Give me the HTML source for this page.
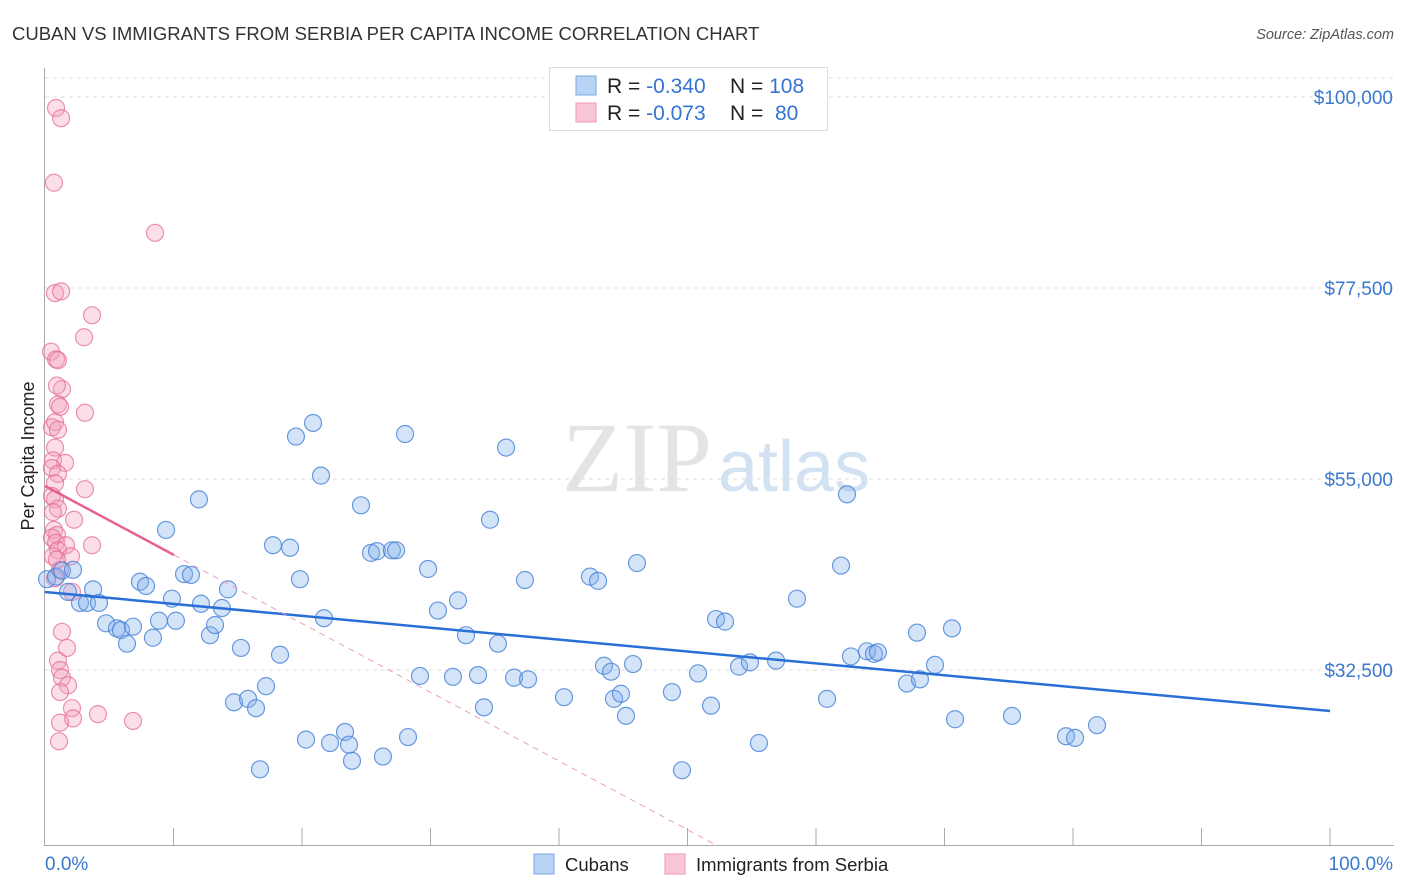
<!DOCTYPE html>
<html><head><meta charset="utf-8">
<style>
body{margin:0;background:#fff;font-family:"Liberation Sans",sans-serif;}
#wrap{position:relative;width:1406px;height:892px;overflow:hidden;}
</style></head>
<body>
<div id="wrap">
<svg id="chart" width="1406" height="892" xmlns="http://www.w3.org/2000/svg">
<text x="12" y="40" font-size="18.5" fill="#333">CUBAN VS IMMIGRANTS FROM SERBIA PER CAPITA INCOME CORRELATION CHART</text>
<text x="1394" y="39" font-size="14.5" fill="#555" font-style="italic" text-anchor="end">Source: ZipAtlas.com</text>
<text x="712" y="491" font-size="100" fill="#e4e4e4" text-anchor="end" font-family="Liberation Serif,serif">ZIP</text>
<text x="718" y="491" font-size="72" fill="#d3e2f2">atlas</text>
<text transform="translate(34,456) rotate(-90)" font-size="18" fill="#222" text-anchor="middle">Per Capita Income</text>
<g id="grid"></g><g id="axes"></g><g id="pts"></g><g id="lines"></g>
<g>
<rect x="549.5" y="67.5" width="278" height="63" fill="#fff" stroke="#ddd"/>
<rect x="576" y="76" width="20" height="19" fill="#b8d3f3" stroke="#7aa9e3"/>
<rect x="576" y="103" width="20" height="19" fill="#f9c6d6" stroke="#ec9ab5"/>
<text x="607" y="93" font-size="21" fill="#222">R = <tspan fill="#3574d4">-0.340</tspan><tspan x="730">N = </tspan><tspan fill="#3574d4">108</tspan></text>
<text x="607" y="120" font-size="21" fill="#222">R = <tspan fill="#3574d4">-0.073</tspan><tspan x="730">N = </tspan><tspan fill="#3574d4" x="775">80</tspan></text>
</g>
<g>
<rect x="534" y="854" width="20" height="20" fill="#b8d3f3" stroke="#7aa9e3"/>
<text x="565" y="871" font-size="18.5" fill="#222">Cubans</text>
<rect x="665" y="854" width="20" height="20" fill="#f9c6d6" stroke="#ec9ab5"/>
<text x="696" y="871" font-size="18.5" fill="#222">Immigrants from Serbia</text>
</g>
</svg>
</div>
<script>
const yTicks=[32500,55000,77500,100000];
const yTickLabels=["$32,500","$55,000","$77,500","$100,000"];
const xTickLabels=["0.0%","100.0%"];
const cubanX=[0.16,0.86,1.32,2.18,1.79,2.72,3.27,3.74,4.20,4.75,5.60,5.91,6.38,6.85,7.39,7.86,8.40,8.87,9.42,9.88,10.19,10.82,11.36,11.98,12.14,12.84,13.23,13.77,14.24,14.71,15.25,15.80,16.42,17.20,16.73,18.29,17.74,19.07,19.53,19.84,20.31,20.86,21.48,21.71,22.18,23.35,23.66,23.89,24.59,25.37,25.84,26.30,27.00,27.32,28.02,28.25,29.18,29.81,30.58,31.75,32.14,32.76,33.70,34.16,34.63,35.25,35.88,36.50,37.59,37.35,40.39,42.41,43.04,43.50,44.05,44.28,44.82,45.21,45.76,46.07,48.79,49.57,50.82,51.83,52.22,52.92,54.01,54.86,55.56,56.89,58.52,60.86,61.95,62.41,62.72,63.97,64.51,64.82,67.08,67.86,68.09,69.26,70.58,70.82,75.25,79.46,80.16,81.87];
const cubanY=[43.2,43.5,44.2,44.3,41.7,40.4,40.4,42.0,40.4,38.0,37.4,37.2,35.6,37.6,42.9,42.4,36.3,38.3,49.0,40.9,38.3,43.8,43.7,52.6,40.3,36.6,37.8,39.8,42.0,28.7,35.1,29.1,28.0,30.6,20.8,34.3,47.2,46.9,60.0,43.2,24.3,61.6,55.4,38.6,23.9,25.2,23.7,21.8,51.9,46.3,46.5,22.3,46.6,46.6,60.3,24.6,31.8,44.4,39.5,31.7,40.7,36.6,31.9,28.1,50.2,35.6,58.7,31.6,31.4,43.1,29.3,43.5,43.0,33.0,32.3,29.1,29.7,27.1,33.2,45.1,29.9,20.7,32.1,28.3,38.5,38.2,32.9,33.4,23.9,33.6,40.9,29.1,44.8,53.2,34.1,34.7,34.4,34.6,30.9,36.9,31.4,33.1,37.4,26.7,27.1,24.7,24.5,26.0];
const serbX=[0.86,1.25,0.70,8.56,0.78,1.25,3.66,3.04,0.47,0.86,1.01,1.32,0.93,1.01,1.17,3.11,0.54,0.78,1.01,0.78,0.62,1.56,0.54,1.01,0.78,3.11,0.54,0.78,1.01,0.62,2.26,0.70,0.93,0.54,0.86,1.63,3.66,1.01,0.62,2.02,0.93,1.17,0.78,2.10,1.32,1.01,1.71,1.17,1.32,1.79,1.17,2.10,2.18,4.12,1.17,6.85,1.09];
const serbY=[98.7,97.5,89.9,84.0,76.9,77.1,74.3,71.7,70.0,69.1,69.0,65.6,66.0,63.8,63.5,62.8,61.1,61.7,60.8,58.7,57.2,56.9,56.3,55.6,54.5,53.8,53.0,52.6,51.5,51.1,50.2,49.0,48.4,48.1,47.5,47.2,47.2,46.6,45.9,45.9,45.5,44.3,43.3,41.7,37.0,33.6,35.1,32.5,31.6,30.7,29.9,28.0,26.8,27.3,26.3,26.5,24.1];
const cubanTrend=[41.69,27.67];
const serbTrend=[54.18,-0.81];
const serbSolidEnd=10.04;
const NS="http://www.w3.org/2000/svg";
const xs=v=>45+v*12.85;
const ys=v=>670-(v-32500)/22500*191;
const ysk=k=>ys(k*1000);
function mk(tag,attrs,parent){const e=document.createElementNS(NS,tag);for(const k in attrs)e.setAttribute(k,attrs[k]);document.getElementById(parent).appendChild(e);return e;}
yTicks.forEach((t,i)=>{
  const g=mk('line',{x1:45,x2:1394,y1:ys(t),y2:ys(t),stroke:'#ddd','stroke-dasharray':'4,4'},'grid');
  
  
  const tx=mk('text',{x:1393,y:ys(t)+7,'font-size':19,fill:'#3a78d0','text-anchor':'end'},'axes');
  tx.textContent=yTickLabels[i];
  
  
});
const topLine=mk('line',{x1:45,x2:1394,y1:78,y2:78,stroke:'#ddd','stroke-dasharray':'4,4'},'grid');


const ax=mk('line',{x1:44.5,x2:44.5,y1:68,y2:846,stroke:'#aaa'},'axes');


const bx=mk('line',{x1:44,x2:1394,y1:845.5,y2:845.5,stroke:'#aaa'},'axes');


for(let i=1;i<=10;i++){
  const t=mk('line',{x1:xs(i*10),x2:xs(i*10),y1:828,y2:846,stroke:'#aaa'},'axes');
  
  
}
const xl0=mk('text',{x:45,y:870,'font-size':19,fill:'#3a78d0'},'axes');xl0.textContent=xTickLabels[0];


const xl1=mk('text',{x:1393,y:870,'font-size':19,fill:'#3a78d0','text-anchor':'end'},'axes');xl1.textContent=xTickLabels[1];


serbX.forEach((x,i)=>{
  const c=mk('circle',{cx:xs(x),cy:ysk(serbY[i]),r:8.5,fill:'rgba(244,160,188,0.35)',stroke:'rgba(230,110,150,0.75)','stroke-width':1.2},'pts');
  
  
});
cubanX.forEach((x,i)=>{
  const c=mk('circle',{cx:xs(x),cy:ysk(cubanY[i]),r:8.5,fill:'rgba(130,175,235,0.35)',stroke:'rgba(70,130,215,0.8)','stroke-width':1.2},'pts');
  
  
});
const cl=mk('line',{x1:xs(0),y1:ysk(cubanTrend[0]),x2:xs(100),y2:ysk(cubanTrend[1]),stroke:'#2a6fd6','stroke-width':2.5},'lines');


const sEnd=serbSolidEnd, sVal=serbTrend[0]+serbTrend[1]*sEnd;
const sl=mk('line',{x1:xs(0),y1:ysk(serbTrend[0]),x2:xs(sEnd),y2:ysk(sVal),stroke:'#e8628f','stroke-width':2.5},'lines');


const xEnd=(11.9-serbTrend[0])/serbTrend[1];
const sd=mk('line',{x1:xs(sEnd),y1:ysk(sVal),x2:xs(xEnd),y2:ysk(11.9),stroke:'#eaa0b8','stroke-width':1,'stroke-dasharray':'6,5'},'lines');


</script>
</body></html>
